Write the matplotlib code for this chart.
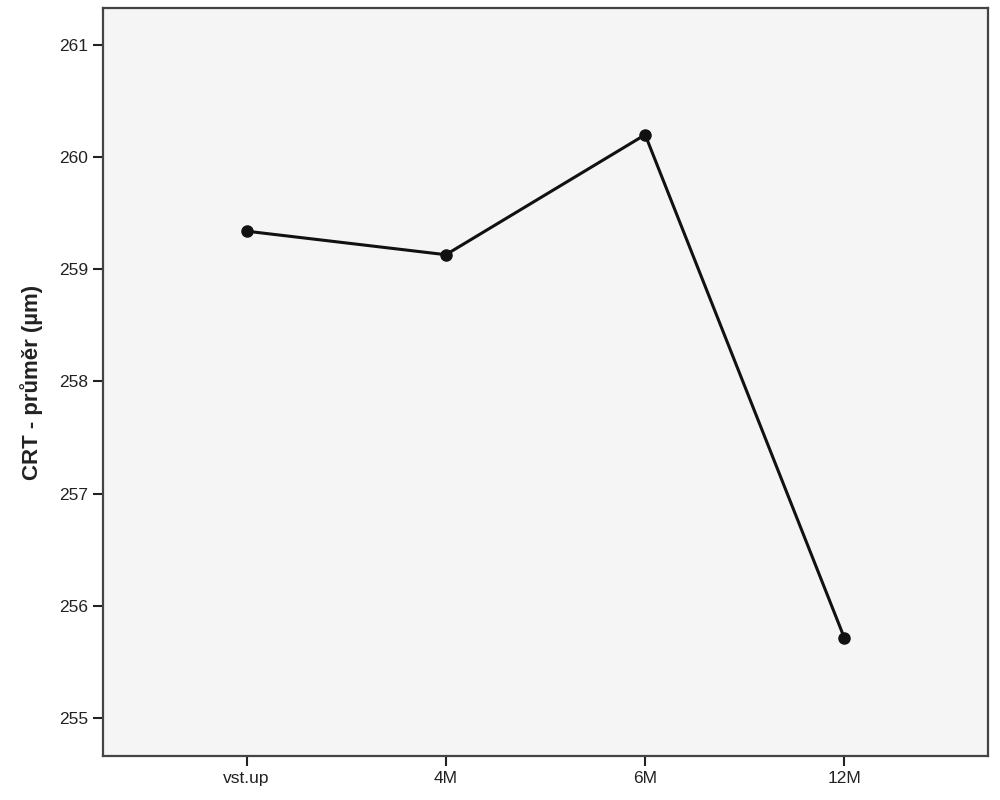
import matplotlib
matplotlib.use("Agg")
import matplotlib.pyplot as plt

plt.rcParams['font.family'] = ['Liberation Sans', 'DejaVu Sans']

# data
categories = ['vst.up', '4M', '6M', '12M']
crt_mean = [259.34, 259.13, 260.20, 255.71]
y_ticks = [255, 256, 257, 258, 259, 260, 261]

fig = plt.figure(figsize=(10, 8), dpi=100)
ax = fig.add_axes([0.103, 0.055, 0.885, 0.935])
ax.set_facecolor('#f5f5f5')

x = range(len(categories))
ax.plot(x, crt_mean, color='#111111', linewidth=2.2, marker='o',
        markersize=8, markerfacecolor='#111111', markeredgecolor='#111111')

ax.set_xlim(-0.72, 3.72)
ax.set_ylim(254.66, 261.33)
ax.set_xticks(list(x))
ax.set_xticklabels(categories)
ax.set_yticks(y_ticks)
ax.tick_params(axis='both', direction='out', length=7, width=1.5,
               color='#222222', labelsize=12.5, labelcolor='#222222')
ax.set_ylabel('CRT - průměr (µm)', fontsize=16, fontweight='bold',
              color='#222222', labelpad=12)

for s in ax.spines.values():
    s.set_color('#444444')
    s.set_linewidth(1.6)

fig.savefig('out.png', dpi=100)
